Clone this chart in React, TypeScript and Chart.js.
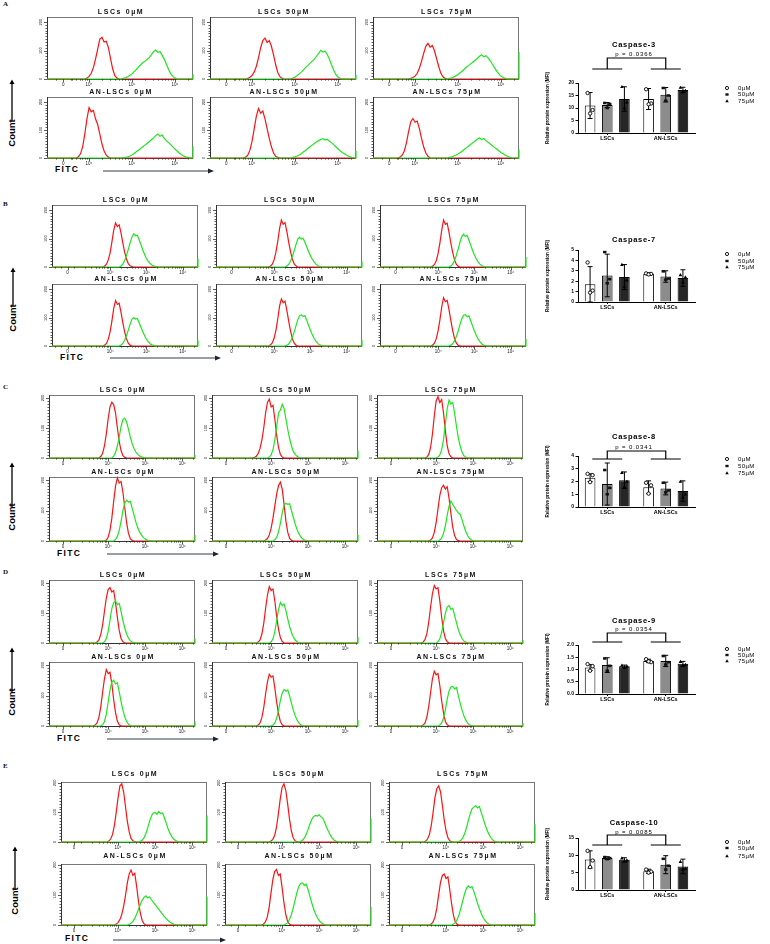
import React, { useEffect, useRef } from "react";
import { Chart, registerables } from "chart.js";

Chart.register(...registerables);

const FONT = '"Liberation Sans", Arial, sans-serif';
const NARROW = '"Liberation Sans Narrow", "Arial Narrow", "Liberation Sans", sans-serif';

// Histogram bin width in decades (10^4 = 1, 10^5 = 2, 10^6 = 3)
const BIN = 0.05;

const TITLES = ["LSCs 0µM", "LSCs 50µM", "LSCs 75µM", "AN-LSCs 0µM", "AN-LSCs 50µM", "AN-LSCs 75µM"];
const FITC_LABELS = ["0", "10⁴", "10⁵", "10⁶"];
const COUNT_LABELS = [0, 100, 200];

// ---------- Panel A (Caspase-3) histograms ----------
const A_RED_START = [0.9, 0.85, 0.85, 0.7, 0.8, 0.6];
const A_RED = [
  [0, 3, 9, 20, 40, 70, 105, 140, 147, 130, 133, 110, 72, 35, 12, 3, 0],
  [0, 2, 6, 12, 25, 45, 75, 110, 135, 144, 128, 135, 115, 85, 50, 22, 8, 2, 0],
  [0, 2, 5, 10, 20, 38, 62, 90, 115, 125, 112, 118, 100, 72, 44, 20, 8, 2, 0],
  [0, 4, 15, 40, 85, 140, 180, 165, 170, 140, 120, 85, 50, 25, 10, 3, 0],
  [0, 3, 10, 28, 60, 105, 150, 177, 160, 168, 140, 105, 70, 40, 18, 6, 2, 0],
  [0, 3, 10, 25, 55, 95, 130, 141, 128, 132, 105, 70, 40, 18, 6, 0],
];
const A_GREEN_START = [1.75, 1.9, 1.75, 1.8, 1.9, 1.75];
const A_GREEN = [
  [0, 2, 4, 8, 13, 18, 26, 33, 42, 50, 57, 62, 68, 75, 85, 96, 102, 94, 97, 84, 70, 52, 34, 19, 9, 3, 0],
  [0, 3, 7, 12, 18, 25, 33, 41, 48, 56, 63, 70, 80, 90, 101, 95, 98, 86, 70, 50, 32, 16, 7, 2, 0],
  [0, 2, 4, 7, 11, 16, 22, 28, 35, 42, 48, 54, 60, 66, 72, 80, 85, 78, 82, 74, 64, 52, 40, 28, 18, 10, 5, 2, 0],
  [0, 2, 4, 7, 11, 16, 22, 28, 34, 40, 46, 52, 58, 65, 72, 80, 86, 78, 82, 70, 62, 55, 48, 40, 32, 25, 18, 12, 7, 4, 2, 0],
  [0, 2, 4, 7, 11, 16, 22, 28, 34, 40, 46, 52, 58, 62, 66, 69, 64, 67, 60, 55, 48, 40, 33, 26, 20, 15, 10, 6, 3, 1, 0],
  [0, 2, 4, 7, 10, 14, 19, 25, 31, 37, 43, 49, 55, 61, 67, 72, 66, 70, 62, 56, 50, 44, 38, 32, 26, 20, 15, 10, 6, 3, 1, 0],
];
const A_EDGE = [18, 15, 95, 42, 25, 30];

// ---------- Panel B (Caspase-7) histograms ----------
const B_RED_START = [0.8, 0.85, 0.8, 0.8, 0.85, 0.8];
const B_RED = [
  [0, 3, 10, 25, 50, 88, 130, 155, 142, 148, 120, 85, 52, 28, 12, 4, 1, 0],
  [0, 3, 10, 25, 52, 90, 135, 165, 150, 156, 125, 88, 55, 28, 12, 4, 0],
  [0, 3, 9, 22, 48, 85, 130, 165, 150, 154, 122, 85, 52, 26, 10, 3, 0],
  [0, 3, 9, 24, 50, 88, 132, 160, 146, 150, 118, 82, 50, 25, 10, 3, 0],
  [0, 4, 11, 27, 55, 95, 140, 165, 152, 158, 126, 88, 54, 27, 11, 3, 0],
  [0, 3, 10, 26, 54, 92, 138, 170, 156, 160, 128, 90, 55, 27, 11, 3, 0],
];
const B_GREEN_START = [1.25, 1.3, 1.3, 1.25, 1.3, 1.3];
const B_GREEN = [
  [0, 3, 10, 22, 40, 62, 85, 105, 117, 110, 112, 95, 78, 60, 44, 30, 20, 12, 7, 4, 2, 0],
  [0, 3, 9, 20, 36, 56, 78, 97, 105, 98, 101, 86, 70, 54, 40, 28, 18, 10, 5, 2, 0],
  [0, 3, 10, 22, 40, 62, 86, 106, 115, 108, 111, 94, 76, 58, 42, 29, 18, 10, 5, 2, 0],
  [0, 3, 9, 20, 36, 56, 76, 94, 100, 95, 97, 82, 66, 50, 36, 24, 15, 8, 4, 2, 0],
  [0, 2, 7, 16, 30, 48, 70, 92, 106, 110, 104, 106, 90, 72, 55, 40, 27, 17, 9, 4, 2, 0],
  [0, 3, 8, 18, 33, 52, 74, 95, 108, 110, 103, 106, 88, 70, 53, 38, 25, 15, 8, 3, 1, 0],
];
const B_EDGE = [30, 20, 35, 20, 20, 25];

// ---------- Panel C (Caspase-8) histograms ----------
const C_RED_START = [0.75, 0.5, 0.7, 0.9, 0.8, 0.8];
const C_RED = [
  [0, 5, 15, 40, 80, 130, 170, 186, 178, 150, 100, 55, 25, 8, 2, 0],
  [0, 2, 6, 15, 32, 60, 100, 150, 185, 196, 170, 175, 130, 75, 35, 12, 3, 0],
  [0, 3, 12, 35, 80, 140, 190, 204, 185, 195, 150, 90, 40, 14, 4, 0],
  [0, 3, 12, 35, 75, 130, 180, 207, 190, 195, 160, 110, 60, 25, 8, 2, 0],
  [0, 3, 8, 20, 42, 75, 115, 155, 182, 193, 170, 120, 65, 28, 9, 2, 0],
  [0, 3, 10, 28, 60, 105, 150, 175, 183, 170, 178, 140, 90, 45, 18, 5, 1, 0],
];
const C_GREEN_START = [1.1, 0.9, 1.0, 1.15, 1.05, 1.05];
const C_GREEN = [
  [0, 6, 18, 40, 70, 105, 128, 133, 120, 96, 70, 48, 32, 20, 12, 7, 4, 2, 0],
  [0, 3, 10, 28, 60, 105, 150, 160, 179, 165, 130, 95, 65, 40, 22, 12, 6, 2, 0],
  [0, 3, 10, 28, 62, 115, 165, 193, 180, 185, 150, 105, 68, 40, 20, 8, 3, 0],
  [0, 5, 15, 35, 65, 100, 125, 134, 128, 130, 108, 85, 62, 44, 30, 20, 12, 7, 3, 1, 0],
  [0, 4, 12, 30, 58, 92, 118, 124, 120, 122, 100, 78, 56, 38, 24, 14, 7, 3, 1, 0],
  [0, 3, 10, 25, 50, 85, 115, 131, 120, 110, 100, 92, 88, 70, 50, 32, 18, 9, 4, 1, 0],
];
const C_EDGE = [10, 25, 0, 20, 20, 0];

// ---------- Panel D (Caspase-9) histograms ----------
const D_RED_START = [0.65, 0.6, 0.6, 0.6, 0.6, 0.6];
const D_RED = [
  [0, 3, 10, 28, 60, 105, 150, 178, 185, 170, 175, 135, 85, 42, 15, 4, 0],
  [0, 3, 10, 30, 65, 115, 160, 188, 175, 180, 140, 88, 45, 18, 5, 0],
  [0, 3, 12, 32, 70, 120, 165, 192, 180, 184, 140, 85, 40, 15, 4, 0],
  [0, 3, 10, 28, 62, 110, 155, 185, 172, 176, 138, 86, 44, 16, 4, 0],
  [0, 3, 10, 28, 60, 105, 145, 170, 160, 164, 125, 78, 40, 15, 4, 0],
  [0, 3, 10, 30, 64, 110, 155, 180, 168, 172, 132, 82, 42, 15, 4, 0],
];
const D_GREEN_START = [0.85, 0.95, 1.0, 0.8, 1.0, 1.05];
const D_GREEN = [
  [0, 4, 14, 38, 75, 115, 135, 140, 128, 132, 105, 75, 50, 30, 16, 8, 3, 1, 0],
  [0, 4, 14, 38, 75, 112, 135, 125, 130, 108, 80, 55, 35, 20, 10, 4, 1, 0],
  [0, 4, 14, 35, 68, 100, 120, 125, 112, 116, 92, 68, 45, 28, 15, 7, 3, 1, 0],
  [0, 4, 14, 38, 78, 118, 145, 150, 138, 142, 112, 80, 52, 30, 15, 6, 2, 0],
  [0, 3, 10, 26, 52, 84, 108, 120, 114, 118, 98, 74, 52, 34, 20, 10, 4, 1, 0],
  [0, 3, 10, 26, 54, 88, 115, 128, 130, 122, 126, 100, 75, 52, 34, 20, 10, 4, 1, 0],
];
const D_EDGE = [15, 20, 10, 15, 20, 10];

// ---------- Panel E (Caspase-10) histograms ----------
const E_RED_START = [0.7, 0.65, 0.4, 0.9, 0.45, 0.55];
const E_RED = [
  [0, 3, 10, 25, 55, 100, 150, 190, 197, 170, 120, 70, 35, 12, 4, 1, 0],
  [0, 3, 9, 22, 50, 95, 145, 185, 197, 175, 130, 78, 38, 14, 4, 1, 0],
  [0, 3, 10, 25, 55, 100, 150, 180, 190, 170, 125, 75, 38, 14, 4, 1, 0],
  [0, 3, 8, 18, 35, 62, 98, 140, 170, 183, 165, 172, 130, 80, 40, 15, 4, 0],
  [0, 3, 10, 26, 58, 105, 150, 178, 185, 165, 170, 125, 75, 35, 12, 3, 0],
  [0, 3, 10, 26, 56, 100, 142, 165, 170, 155, 160, 118, 70, 32, 10, 2, 0],
];
const E_GREEN_START = [1.55, 1.45, 1.3, 1.25, 1.05, 1.15];
const E_GREEN = [
  [0, 2, 6, 14, 28, 48, 70, 88, 98, 100, 94, 103, 96, 98, 82, 64, 45, 30, 18, 10, 5, 2, 0],
  [0, 2, 6, 13, 25, 42, 60, 76, 86, 90, 88, 92, 85, 80, 66, 50, 36, 24, 14, 7, 3, 1, 0],
  [0, 2, 6, 14, 28, 48, 72, 95, 112, 118, 123, 115, 120, 100, 80, 60, 42, 28, 16, 8, 3, 1, 0],
  [0, 2, 6, 12, 22, 36, 52, 68, 82, 92, 97, 90, 94, 84, 76, 68, 60, 52, 44, 36, 28, 21, 15, 10, 6, 3, 1, 0],
  [0, 3, 8, 18, 34, 56, 82, 108, 128, 138, 140, 132, 136, 118, 96, 74, 54, 38, 25, 15, 8, 4, 1, 0],
  [0, 3, 8, 18, 34, 56, 80, 104, 122, 130, 124, 128, 112, 92, 72, 54, 38, 25, 15, 8, 3, 1, 0],
];
const E_EDGE = [90, 80, 60, 95, 60, 40];

// ---------- Bar charts: MFI per dose, [LSCs, AN-LSCs] ----------
const GROUPS = ["LSCs", "AN-LSCs"];
const DOSES = ["0µM", "50µM", "75µM"];

const CASP3_MEAN = [[11.0, 13.6], [11.2, 15.3], [13.6, 17.2]];
const CASP3_SD = [[5.2, 4.2], [1.0, 2.9], [4.9, 1.1]];
const CASP3_PTS = [
  [[16.0, 9.2, 7.8], [17.5, 11.8, 11.5]],
  [[12.0, 11.6, 10.0], [18.0, 15.0, 12.9]],
  [[18.5, 12.3, 10.0], [18.2, 17.0, 16.4]],
];

const CASP7_MEAN = [[1.7, 2.7], [2.55, 2.45], [2.4, 2.3]];
const CASP7_SD = [[1.7, 0.1], [2.05, 0.55], [1.2, 0.8]];
const CASP7_PTS = [
  [[3.8, 1.1, 0.9], [2.75, 2.7, 2.65]],
  [[4.8, 2.2, 1.8], [2.95, 2.25, 2.15]],
  [[3.6, 2.1, 1.5], [2.6, 2.4, 1.9]],
];

const CASP8_MEAN = [[2.3, 1.55], [1.8, 1.45], [2.1, 1.25]];
const CASP8_SD = [[0.3, 0.5], [1.65, 0.5], [0.65, 0.8]];
const CASP8_PTS = [
  [[2.6, 2.5, 1.95], [1.9, 1.7, 1.05]],
  [[2.9, 1.5, 1.0], [1.9, 1.3, 1.15]],
  [[2.7, 2.0, 1.6], [2.0, 1.0, 0.75]],
];

const CASP9_MEAN = [[1.08, 1.35], [1.18, 1.35], [1.13, 1.23]];
const CASP9_SD = [[0.12, 0.07], [0.3, 0.23], [0.05, 0.1]];
const CASP9_PTS = [
  [[1.22, 1.14, 0.95], [1.42, 1.3, 1.33]],
  [[1.45, 1.15, 0.95], [1.55, 1.3, 1.2]],
  [[1.17, 1.14, 1.08], [1.32, 1.2, 1.17]],
];

const CASP10_MEAN = [[8.8, 5.4], [9.2, 7.3], [8.7, 6.8]];
const CASP10_SD = [[2.5, 0.6], [0.4, 2.6], [0.6, 2.1]];
const CASP10_PTS = [
  [[11.3, 8.5, 6.6], [5.9, 5.3, 5.0]],
  [[9.5, 9.2, 8.9], [9.0, 7.0, 5.9]],
  [[9.2, 8.6, 8.3], [8.2, 6.2, 6.0]],
];

// ---------- page layout (pixels) ----------
const HIST_W = 146;

const PANEL_LAYOUT = {
  A: { letterY: 5, cols: [47, 210, 373], rows: [[17, 79], [97, 158]], titleGap: 5, axis: { min: 0.02, max: 3.42, zero: 0.4 }, yMax: 218,
       fitc: { x: 55, y: 169, x0: 103, x1: 213, ay: 171 }, count: { x: 12, a0: 80, a1: 121, ty: 133 } },
  B: { letterY: 205, cols: [52, 216, 380], rows: [[205, 267], [284, 346]], titleGap: 4.5, axis: { min: -0.6, max: 3.42, zero: -0.17 }, yMax: 218,
       fitc: { x: 60, y: 357, x0: 110, x1: 220, ay: 358 }, count: { x: 13, a0: 268, a1: 306, ty: 318 } },
  C: { letterY: 388, cols: [49, 212, 377], rows: [[395, 458], [477, 541]], titleGap: 5, axis: { min: -0.6, max: 3.35, zero: -0.22 }, yMax: 210,
       fitc: { x: 57, y: 553, x0: 107, x1: 218, ay: 554 }, count: { x: 12, a0: 463, a1: 507, ty: 517 } },
  D: { letterY: 573, cols: [49, 212, 377], rows: [[580, 643], [662, 726]], titleGap: 5, axis: { min: -0.6, max: 3.35, zero: -0.22 }, yMax: 210,
       fitc: { x: 57, y: 738, x0: 107, x1: 218, ay: 739 }, count: { x: 12, a0: 648, a1: 692, ty: 702 } },
  E: { letterY: 767, cols: [61, 225, 389], rows: [[782, 842], [864, 925]], titleGap: 8, axis: { min: -0.54, max: 3.4, zero: -0.19 }, yMax: 203,
       fitc: { x: 65, y: 938, x0: 113, x1: 225, ay: 940 }, count: { x: 15, a0: 847, a1: 890, ty: 901 } },
};

const BAR_LAYOUT = {
  A: { titleY: 45, pY: 54, bracket: [58, 69], plotTop: 83, plotBottom: 133, legendY: [88, 94.5, 101] },
  B: { titleY: 240, pY: 0, bracket: null, plotTop: 250, plotBottom: 302, legendY: [254, 261, 267] },
  C: { titleY: 437, pY: 447, bracket: [451, 459], plotTop: 456, plotBottom: 507, legendY: [459, 466, 473] },
  D: { titleY: 621, pY: 629, bracket: [633, 642], plotTop: 645, plotBottom: 694, legendY: [649, 655, 661] },
  E: { titleY: 823, pY: 832, bracket: [835, 845], plotTop: 838, plotBottom: 890, legendY: [842, 848, 856] },
};

// ---------- flow histogram ----------
function Histogram(props: any) {
  const { left, top, bottom, title, titleGap, axis, yMax, redStart, red, greenStart, green, edge } = props;
  const ref = useRef<HTMLCanvasElement | null>(null);
  const PL = 14, PT = 12, PR = 3, PB = 10;
  const boxH = bottom - top;
  const cw = HIST_W + PL + PR;
  const ch = boxH + PT + PB;

  useEffect(() => {
    if (!ref.current) return;
    const series = (start: number, ys: number[]) => {
      const out = [{ x: axis.min, y: 0 }];
      ys.forEach((v, i) => out.push({ x: start + i * BIN, y: v }));
      out.push({ x: axis.max, y: 0 });
      return out;
    };
    const g = series(greenStart, green);
    if (edge > 0) g.push({ x: axis.max, y: edge });
    const r = series(redStart, red);

    const decor = {
      id: "histDecor",
      beforeDatasetsDraw(chart: any) {
        const { ctx, chartArea: a } = chart;
        ctx.save();
        ctx.strokeStyle = "#777";
        ctx.lineWidth = 1;
        ctx.strokeRect(a.left + 0.5, a.top + 0.5, a.right - a.left - 1, a.bottom - a.top);
        ctx.strokeStyle = "#333";
        ctx.beginPath();
        ctx.moveTo(a.left + 0.5, a.top);
        ctx.lineTo(a.left + 0.5, a.bottom + 0.5);
        ctx.lineTo(a.right, a.bottom + 0.5);
        ctx.stroke();
        ctx.restore();
      },
      afterDraw(chart: any) {
        const { ctx, chartArea: a } = chart;
        const xs = chart.scales.x;
        const ys = chart.scales.y;
        ctx.save();
        ctx.strokeStyle = "#333";
        ctx.fillStyle = "#222";
        ctx.lineWidth = 0.8;
        // x ticks: biexponential decades with minor marks
        const majors = [axis.zero, 1, 2, 3];
        const minors: number[] = [];
        for (let d = 0; d <= 3; d++) {
          for (let k = 2; k <= 9; k++) {
            const v = d + Math.log10(k);
            if (v > axis.zero + 0.12 && v < axis.max) minors.push(v);
          }
        }
        [axis.zero - 0.35, axis.zero - 0.18, axis.zero + 0.18].forEach((v) => {
          if (v > axis.min + 0.05 && v < 1) minors.push(v);
        });
        ctx.beginPath();
        majors.forEach((v) => {
          const x = Math.round(xs.getPixelForValue(v)) + 0.5;
          ctx.moveTo(x, a.bottom);
          ctx.lineTo(x, a.bottom + 3);
        });
        minors.forEach((v) => {
          const x = Math.round(xs.getPixelForValue(v)) + 0.5;
          ctx.moveTo(x, a.bottom);
          ctx.lineTo(x, a.bottom + 1.6);
        });
        // y ticks
        for (let v = 0; v <= 200; v += 10) {
          const y = Math.round(ys.getPixelForValue(v)) + 0.5;
          const len = v % 100 === 0 ? 3 : 1.5;
          ctx.moveTo(a.left, y);
          ctx.lineTo(a.left - len, y);
        }
        ctx.stroke();

        ctx.font = `4.5px ${FONT}`;
        ctx.textAlign = "center";
        ctx.textBaseline = "top";
        majors.forEach((v, i) => {
          ctx.fillText(FITC_LABELS[i], xs.getPixelForValue(v), a.bottom + 3.5);
        });
        ctx.font = `4px ${FONT}`;
        ctx.textBaseline = "middle";
        COUNT_LABELS.forEach((v) => {
          ctx.save();
          ctx.translate(a.left - 6, ys.getPixelForValue(v));
          ctx.rotate(-Math.PI / 2);
          ctx.fillText(String(v), 0, 0);
          ctx.restore();
        });

        ctx.fillStyle = "#111";
        ctx.font = `bold 7px ${FONT}`;
        (ctx as any).letterSpacing = "1.6px";
        ctx.textAlign = "center";
        ctx.textBaseline = "middle";
        ctx.fillText(title, (a.left + a.right) / 2 + 1, a.top - titleGap);
        ctx.restore();
      },
    };

    const chart = new Chart(ref.current, {
      type: "line",
      data: {
        datasets: [
          { data: g, borderColor: "rgb(30,230,30)", borderWidth: 1.2, pointRadius: 0, tension: 0, fill: false, clip: 3 },
          { data: r, borderColor: "rgb(250,20,20)", borderWidth: 1.2, pointRadius: 0, tension: 0, fill: false, clip: 3 },
        ],
      },
      options: {
        animation: false,
        responsive: false,
        events: [],
        layout: { padding: { left: 0, top: PT, right: PR, bottom: 0 } },
        plugins: { legend: { display: false }, tooltip: { enabled: false } },
        scales: {
          x: {
            type: "linear", min: axis.min, max: axis.max,
            ticks: { display: false }, grid: { display: false }, border: { display: false },
            afterFit: (s: any) => { s.height = PB; },
          },
          y: {
            min: 0, max: yMax,
            ticks: { display: false }, grid: { display: false }, border: { display: false },
            afterFit: (s: any) => { s.width = PL; },
          },
        },
      } as any,
      plugins: [decor],
    } as any);
    return () => chart.destroy();
  }, []);

  return (
    <canvas
      ref={ref}
      width={cw}
      height={ch}
      style={{ position: "absolute", left: left - PL, top: top - PT, width: cw, height: ch }}
    />
  );
}

// ---------- replicate markers ----------
function drawMarker(ctx: CanvasRenderingContext2D, kind: number, x: number, y: number, r: number) {
  ctx.beginPath();
  if (kind === 0) {
    ctx.arc(x, y, r, 0, Math.PI * 2);
    ctx.fillStyle = "#fff";
    ctx.fill();
    ctx.lineWidth = 0.9;
    ctx.strokeStyle = "#000";
    ctx.stroke();
  } else if (kind === 1) {
    ctx.rect(x - r, y - r * 0.75, r * 2, r * 1.5);
    ctx.fillStyle = "#111";
    ctx.fill();
  } else {
    ctx.moveTo(x, y - r * 1.1);
    ctx.lineTo(x + r * 1.1, y + r * 0.8);
    ctx.lineTo(x - r * 1.1, y + r * 0.8);
    ctx.closePath();
    ctx.fillStyle = "#000";
    ctx.fill();
  }
}

const POINT_OFFSETS = [-2.5, 2.5, 0];

// ---------- MFI bar chart ----------
function BarPanel(props: any) {
  const { name, pText, mean, sd, pts, yMax, yStep, decimals, lay } = props;
  const ref = useRef<HTMLCanvasElement | null>(null);
  const CL = 540, CW = 230;
  const cTop = lay.titleY - 8;
  const cH = lay.plotBottom + 15 - cTop;

  useEffect(() => {
    if (!ref.current) return;
    const fills = ["#ffffff", "#8c8c8c", "#262626"];
    const datasets = DOSES.map((d, i) => ({
      label: d,
      data: mean[i],
      backgroundColor: fills[i],
      borderColor: "#000",
      borderWidth: 1,
      barPercentage: 0.62,
      categoryPercentage: 0.88,
    }));

    const deco = {
      id: "barDeco",
      afterDatasetsDraw(chart: any) {
        const { ctx } = chart;
        const y = chart.scales.y;
        ctx.save();
        datasets.forEach((_, i) => {
          const meta = chart.getDatasetMeta(i);
          meta.data.forEach((bar: any, j: number) => {
            const cx = bar.x;
            const m = mean[i][j];
            const s = sd[i][j];
            const yt = y.getPixelForValue(m + s);
            const yb = y.getPixelForValue(Math.max(0, m - s));
            ctx.strokeStyle = "#000";
            ctx.lineWidth = 1;
            ctx.beginPath();
            ctx.moveTo(cx, yt);
            ctx.lineTo(cx, yb);
            ctx.moveTo(cx - 2.5, yt);
            ctx.lineTo(cx + 2.5, yt);
            ctx.moveTo(cx - 2.5, yb);
            ctx.lineTo(cx + 2.5, yb);
            ctx.stroke();
            pts[i][j].forEach((v: number, k: number) => {
              drawMarker(ctx, i, cx + POINT_OFFSETS[k], y.getPixelForValue(v), 1.7);
            });
          });
        });
        ctx.restore();
      },
      afterDraw(chart: any) {
        const { ctx } = chart;
        const xs = chart.scales.x;
        const cx = 634 - CL;
        ctx.save();
        ctx.fillStyle = "#000";
        ctx.textAlign = "center";
        ctx.textBaseline = "middle";
        ctx.font = `bold 7.5px ${FONT}`;
        (ctx as any).letterSpacing = "0.7px";
        ctx.fillText(name, cx, lay.titleY - cTop);
        if (pText) {
          ctx.font = `6px ${FONT}`;
          (ctx as any).letterSpacing = "0.9px";
          ctx.fillText(pText, cx, lay.pY - cTop);
        }
        (ctx as any).letterSpacing = "0px";
        if (lay.bracket) {
          const bt = lay.bracket[0] - cTop;
          const bb = lay.bracket[1] - cTop;
          const g0 = xs.getPixelForValue(0);
          const g1 = xs.getPixelForValue(1);
          ctx.strokeStyle = "#000";
          ctx.lineWidth = 1.2;
          ctx.beginPath();
          ctx.moveTo(g0, bb);
          ctx.lineTo(g0, bt);
          ctx.lineTo(g1, bt);
          ctx.lineTo(g1, bb);
          ctx.moveTo(g0 - 15, bb);
          ctx.lineTo(g0 + 15, bb);
          ctx.moveTo(g1 - 15, bb);
          ctx.lineTo(g1 + 15, bb);
          ctx.stroke();
        }
        // legend
        ctx.font = `6px ${FONT}`;
        (ctx as any).letterSpacing = "0.4px";
        ctx.textAlign = "left";
        DOSES.forEach((d, i) => {
          const ly = lay.legendY[i] - cTop;
          drawMarker(ctx, i, 727 - CL, ly, 1.6);
          ctx.fillStyle = "#000";
          ctx.fillText(d, 738 - CL, ly);
        });
        ctx.restore();
      },
    };

    const chart = new Chart(ref.current, {
      type: "bar",
      data: { labels: GROUPS, datasets },
      options: {
        animation: false,
        responsive: false,
        events: [],
        layout: { padding: { left: 5, right: 75, top: lay.plotTop - cTop, bottom: 0 } },
        plugins: { legend: { display: false }, tooltip: { enabled: false } },
        scales: {
          x: {
            type: "category",
            offset: true,
            grid: { display: true, drawOnChartArea: false, drawTicks: true, tickLength: 2, offset: false, color: "#000" },
            border: { display: true, color: "#000", width: 1 },
            ticks: { color: "#000", padding: 0, font: { family: FONT, size: 5.5, weight: "bold" } },
            afterFit: (s: any) => { s.height = cH - (lay.plotBottom - cTop); },
          },
          y: {
            min: 0, max: yMax,
            ticks: {
              stepSize: yStep, color: "#000", padding: 1.5,
              font: { family: FONT, size: 5, weight: "bold" },
              callback: (v: any) => Number(v).toFixed(decimals),
            },
            grid: { display: true, drawOnChartArea: false, drawTicks: true, tickLength: 2.5, color: "#000" },
            border: { display: true, color: "#000", width: 1 },
            title: {
              display: true, text: "Relative protein expression (MFI)", color: "#000", padding: 0,
              font: { family: NARROW, size: 4.6, weight: "bold" },
            },
            afterFit: (s: any) => { s.width = 33; },
          },
        },
      } as any,
      plugins: [deco],
    } as any);
    return () => chart.destroy();
  }, []);

  return (
    <canvas
      ref={ref}
      width={CW}
      height={cH}
      style={{ position: "absolute", left: CL, top: cTop, width: CW, height: cH }}
    />
  );
}

// ---------- axis captions ----------
function PanelFrame(props: any) {
  const { letter, lay } = props;
  const c = lay.count;
  const f = lay.fitc;
  return (
    <>
      <div style={{ position: "absolute", left: 3, top: lay.letterY - 5, font: "bold 7px 'Liberation Serif', serif", color: "#111" }}>
        {letter}
      </div>
      <svg style={{ position: "absolute", left: c.x - 4, top: c.a0 - 1, overflow: "visible" }} width={8} height={c.a1 - c.a0 + 2}>
        <line x1={4} y1={c.a1 - c.a0 + 1} x2={4} y2={4} stroke="#000" strokeWidth={1.3} />
        <polygon points={`4,0.5 1.5,5 6.5,5`} fill="#000" />
      </svg>
      <div
        style={{
          position: "absolute", left: c.x, top: c.ty, transform: "translate(-50%, -50%) rotate(-90deg)",
          font: `bold 9.5px ${NARROW}`, color: "#000", whiteSpace: "nowrap", lineHeight: "10px",
        }}
      >
        Count
      </div>
      <div
        style={{
          position: "absolute", left: f.x, top: f.y - 5, font: `bold 8.5px ${FONT}`, letterSpacing: "1.3px",
          color: "#000", whiteSpace: "nowrap", lineHeight: "10px",
        }}
      >
        FITC
      </div>
      <svg style={{ position: "absolute", left: f.x0, top: f.ay - 4, overflow: "visible" }} width={f.x1 - f.x0 + 2} height={8}>
        <line x1={0} y1={4} x2={f.x1 - f.x0 - 4} y2={4} stroke="#1c2433" strokeWidth={0.9} />
        <polygon points={`${f.x1 - f.x0 + 1},4 ${f.x1 - f.x0 - 5},1.6 ${f.x1 - f.x0 - 5},6.4`} fill="#1c2433" />
      </svg>
    </>
  );
}

function HistogramGrid(props: any) {
  const { lay, redStart, red, greenStart, green, edge } = props;
  const items = [];
  for (let i = 0; i < 6; i++) {
    const row = lay.rows[Math.floor(i / 3)];
    items.push(
      <Histogram
        key={i}
        left={lay.cols[i % 3]}
        top={row[0]}
        bottom={row[1]}
        title={TITLES[i]}
        titleGap={lay.titleGap}
        axis={lay.axis}
        yMax={lay.yMax}
        redStart={redStart[i]}
        red={red[i]}
        greenStart={greenStart[i]}
        green={green[i]}
        edge={edge[i]}
      />
    );
  }
  return <>{items}</>;
}

export default function App() {
  return (
    <div style={{ position: "absolute", left: 0, top: 0, width: 770, height: 944, background: "#fff", overflow: "hidden" }}>
      <PanelFrame letter="A" lay={PANEL_LAYOUT.A} />
      <HistogramGrid lay={PANEL_LAYOUT.A} redStart={A_RED_START} red={A_RED} greenStart={A_GREEN_START} green={A_GREEN} edge={A_EDGE} />
      <BarPanel name="Caspase-3" pText="p = 0.0366" mean={CASP3_MEAN} sd={CASP3_SD} pts={CASP3_PTS} yMax={20} yStep={5} decimals={0} lay={BAR_LAYOUT.A} />

      <PanelFrame letter="B" lay={PANEL_LAYOUT.B} />
      <HistogramGrid lay={PANEL_LAYOUT.B} redStart={B_RED_START} red={B_RED} greenStart={B_GREEN_START} green={B_GREEN} edge={B_EDGE} />
      <BarPanel name="Caspase-7" pText="" mean={CASP7_MEAN} sd={CASP7_SD} pts={CASP7_PTS} yMax={5} yStep={1} decimals={0} lay={BAR_LAYOUT.B} />

      <PanelFrame letter="C" lay={PANEL_LAYOUT.C} />
      <HistogramGrid lay={PANEL_LAYOUT.C} redStart={C_RED_START} red={C_RED} greenStart={C_GREEN_START} green={C_GREEN} edge={C_EDGE} />
      <BarPanel name="Caspase-8" pText="p = 0.0341" mean={CASP8_MEAN} sd={CASP8_SD} pts={CASP8_PTS} yMax={4} yStep={1} decimals={0} lay={BAR_LAYOUT.C} />

      <PanelFrame letter="D" lay={PANEL_LAYOUT.D} />
      <HistogramGrid lay={PANEL_LAYOUT.D} redStart={D_RED_START} red={D_RED} greenStart={D_GREEN_START} green={D_GREEN} edge={D_EDGE} />
      <BarPanel name="Caspase-9" pText="p = 0.0354" mean={CASP9_MEAN} sd={CASP9_SD} pts={CASP9_PTS} yMax={2} yStep={0.5} decimals={1} lay={BAR_LAYOUT.D} />

      <PanelFrame letter="E" lay={PANEL_LAYOUT.E} />
      <HistogramGrid lay={PANEL_LAYOUT.E} redStart={E_RED_START} red={E_RED} greenStart={E_GREEN_START} green={E_GREEN} edge={E_EDGE} />
      <BarPanel name="Caspase-10" pText="p = 0.0085" mean={CASP10_MEAN} sd={CASP10_SD} pts={CASP10_PTS} yMax={15} yStep={5} decimals={0} lay={BAR_LAYOUT.E} />
    </div>
  );
}
